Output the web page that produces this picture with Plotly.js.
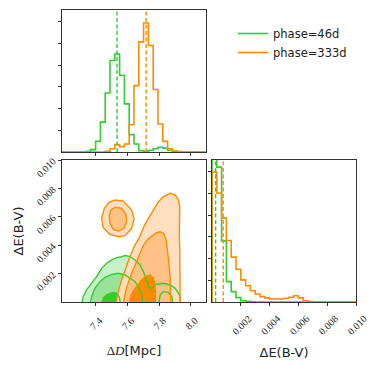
<!DOCTYPE html>
<html>
<head>
<meta charset="utf-8">
<script src="https://cdn.plot.ly/plotly-3.0.1.min.js"></script>
<style>html,body{margin:0;padding:0;background:#fff}#chart{width:374px;height:366px}</style>
</head>
<body>
<div id="chart"></div>
<script>
// Delta D marginal histogram (30 bins across the axis range)
const dLo = 7.19, dHi = 8.095;
const dCountsGreen  = [0,0,0,0,0,3,11,49,138,272,422,452,354,222,80,37,6,3,8,15,22,18,8,2,0,0,0,0,0,0];
const dCountsOrange = [0,0,0,0,0,0,0,0,0,3,15,34,25,37,126,306,508,595,491,288,129,49,15,6,2,0,0,0,0,0];
const dMedians = [7.536, 7.719];

// Delta E(B-V) marginal histogram (30 bins over 0..0.01)
const eLo = 0, eHi = 0.010;
const eCountsGreen  = [1000,622,282,94,48,20,6,3,1,0,0,0,0,0,0,0,0,0,0,0,0,0,0,0,0,0,0,0,0,0];
const eCountsOrange = [599,503,387,284,207,151,102,75,52,37,25,19,14,14,14,17,22,29,19,6,2,1,0,0,0,0,0,0,0,0];
const eMedians = [0.00025, 0.00078];

const labels = ['phase=46d', 'phase=333d'];
const dTicks = [7.4, 7.6, 7.8, 8.0];
const eTicks = [0.002, 0.004, 0.006, 0.008, 0.010];

// 2D credible contours (D, E)
const greenOuterD = [7.313,7.323,7.344,7.376,7.408,7.439,7.471,7.502,7.534,7.565,7.586,7.618,7.649,7.681,7.702,7.719,7.734,7.755,7.786,7.828,7.870,7.902,7.929,7.938];
const greenOuterE = [-0.0002,0.00037,0.00085,0.00132,0.00178,0.00237,0.00273,0.00296,0.00312,0.00319,0.00327,0.0032,0.00296,0.00261,0.00213,0.00162,0.00106,0.00096,0.00125,0.00132,0.0012,0.00096,0.00049,-0.0002];
const greenMidD = [7.365,7.376,7.397,7.428,7.460,7.502,7.544,7.586,7.618,7.649,7.670,7.691,7.698];
const greenMidE = [-0.0002,0.00037,0.00096,0.00143,0.00174,0.00195,0.00202,0.0019,0.00167,0.00143,0.00108,0.00049,-0.0002];
const greenMid2D = [7.796,7.807,7.828,7.859,7.881,7.887];
const greenMid2E = [-0.0002,0.00049,0.00073,0.00068,0.00037,-0.0002];
const greenInD = [7.437,7.449,7.466,7.491,7.517,7.539,7.551,7.558];
const greenInE = [-0.0002,0.00028,0.00047,0.00061,0.00067,0.00056,0.00032,-0.0002];

const orangeOuterD = [7.527,7.546,7.567,7.592,7.618,7.649,7.678,7.693,7.709,7.733,7.765,7.796,7.828,7.870,7.902,7.922,7.930,7.927,7.927,7.930,7.933,7.933,7.933];
const orangeOuterE = [-0.0002,0.00085,0.00162,0.00246,0.00324,0.00401,0.00458,0.005,0.00542,0.00589,0.00648,0.00706,0.00742,0.00765,0.00754,0.00718,0.00669,0.00577,0.00472,0.00366,0.00225,0.0012,-0.0002];
const orangeIslandD = [7.523,7.575,7.628,7.643,7.628,7.586,7.544,7.491,7.449,7.439,7.456,7.485,7.523];
const orangeIslandE = [0.00718,0.00711,0.00648,0.00585,0.00519,0.00467,0.0046,0.00477,0.00523,0.00589,0.0066,0.00702,0.00718];
const orangeMidD = [7.573,7.592,7.618,7.649,7.674,7.702,7.731,7.756,7.782,7.807,7.828,7.845,7.853,7.861,7.870,7.874];
const orangeMidE = [-0.0002,0.00085,0.00176,0.00261,0.00331,0.00401,0.00444,0.00465,0.00486,0.00495,0.00484,0.00437,0.00366,0.00282,0.00169,-0.0002];
const orangeIslandInD = [7.523,7.565,7.592,7.597,7.580,7.548,7.512,7.491,7.487,7.498,7.523];
const orangeIslandInE = [0.00667,0.0066,0.00618,0.0057,0.00519,0.005,0.00512,0.00554,0.00608,0.00648,0.00667];
const orangeInD = [7.611,7.624,7.649,7.681,7.712,7.744,7.765,7.775,7.779];
const orangeInE = [-0.0002,0.00049,0.00096,0.00143,0.00178,0.0019,0.00167,0.0012,-0.0002];

const GREEN = '#32cd32', ORANGE = '#ff8c00';
const greenFills = ['#c9f1c9', '#98e398', '#32cd32'];
const orangeFills = ['#ffdfbf', '#ffc285', '#ff8c00'];
const HMAX = 655;

function stepXY(lo, hi, counts) {
  const w = (hi - lo) / counts.length;
  const x = [lo], y = [0];
  counts.forEach((c, i) => { x.push(lo + i * w); y.push(c); });
  x.push(hi); y.push(0);
  return {x, y};
}

function hist(lo, hi, counts, color, xa, ya, name, legend) {
  const s = stepXY(lo, hi, counts);
  return {x: s.x, y: s.y, xaxis: xa, yaxis: ya, mode: 'lines', name: name,
    showlegend: legend, hoverinfo: 'skip',
    line: {color: color, width: 1.6, shape: 'hv'}};
}

function median(v, color, xa, ya) {
  return {x: [v, v], y: [0, HMAX], xaxis: xa, yaxis: ya, mode: 'lines',
    showlegend: false, hoverinfo: 'skip',
    line: {color: color, width: 1.4, dash: '4px,2.5px'}};
}

function fillPoly(xs, ys, color) {
  return {x: xs, y: ys, xaxis: 'x2', yaxis: 'y2', mode: 'lines', fill: 'toself',
    fillcolor: color, line: {width: 0, color: color}, showlegend: false, hoverinfo: 'skip'};
}

function outline(xs, ys, color) {
  return {x: xs, y: ys, xaxis: 'x2', yaxis: 'y2', mode: 'lines',
    line: {width: 1.4, color: color}, showlegend: false, hoverinfo: 'skip'};
}

const data = [
  // marginal D
  hist(dLo, dHi, dCountsGreen, GREEN, 'x', 'y', labels[0], true),
  hist(dLo, dHi, dCountsOrange, ORANGE, 'x', 'y', labels[1], true),
  median(dMedians[0], GREEN, 'x', 'y'),
  median(dMedians[1], ORANGE, 'x', 'y'),
  // marginal E
  hist(eLo, eHi, eCountsGreen, GREEN, 'x3', 'y3', labels[0], false),
  hist(eLo, eHi, eCountsOrange, ORANGE, 'x3', 'y3', labels[1], false),
  median(eMedians[0], GREEN, 'x3', 'y3'),
  median(eMedians[1], ORANGE, 'x3', 'y3'),
  // 2D fills
  fillPoly(greenOuterD, greenOuterE, greenFills[0]),
  fillPoly(greenMidD, greenMidE, greenFills[1]),
  fillPoly(greenMid2D, greenMid2E, greenFills[1]),
  fillPoly(greenInD, greenInE, greenFills[2]),
  fillPoly(orangeOuterD, orangeOuterE, orangeFills[0]),
  fillPoly(orangeIslandD, orangeIslandE, orangeFills[0]),
  fillPoly(orangeMidD, orangeMidE, orangeFills[1]),
  fillPoly(orangeIslandInD, orangeIslandInE, orangeFills[1]),
  fillPoly(orangeInD, orangeInE, orangeFills[2]),
  // 2D outlines
  outline(greenOuterD, greenOuterE, GREEN),
  outline(greenMidD, greenMidE, GREEN),
  outline(greenMid2D, greenMid2E, GREEN),
  outline(greenInD, greenInE, GREEN),
  outline(orangeOuterD, orangeOuterE, ORANGE),
  outline(orangeIslandD, orangeIslandE, ORANGE),
  outline(orangeMidD, orangeMidE, ORANGE),
  outline(orangeIslandInD, orangeIslandInE, ORANGE),
  outline(orangeInD, orangeInE, ORANGE)
];

const W = 374, H = 366;
const tickFont = {family: 'Liberation Serif, DejaVu Serif, serif', size: 10, color: '#222'};
const titleFont = {family: 'DejaVu Sans', size: 13, color: '#222'};
const base = {showline: true, mirror: true, linecolor: '#333', linewidth: 1,
  showgrid: false, zeroline: false, ticks: 'outside', ticklen: 3, tickwidth: 1,
  tickcolor: '#333', tickfont: tickFont, fixedrange: true};

const histTicks = [100, 200, 300, 400, 500, 600];

const layout = {
  width: W, height: H,
  margin: {l: 0, r: 0, t: 0, b: 0},
  paper_bgcolor: '#fff', plot_bgcolor: '#fff',
  showlegend: true,
  legend: {x: 233 / W, y: 1 - 19 / H, xanchor: 'left', yanchor: 'top',
    bgcolor: 'rgba(0,0,0,0)', font: {family: 'DejaVu Sans', size: 11.5, color: '#222'}},
  xaxis: Object.assign({}, base, {domain: [62 / W, 206 / W], anchor: 'y',
    range: [dLo, dHi], tickvals: dTicks, showticklabels: false}),
  yaxis: Object.assign({}, base, {domain: [1 - 152 / H, 1 - 10 / H], anchor: 'x',
    range: [0, HMAX], tickvals: histTicks, showticklabels: false}),
  xaxis2: Object.assign({}, base, {domain: [62 / W, 206 / W], anchor: 'y2',
    range: [dLo, dHi], tickvals: dTicks, tickformat: '.1f', tickangle: -45,
    ticklabelstandoff: 5, ticklabelshift: 4,
    title: {text: '<span style="font-family:Liberation Serif">Δ<i>D</i></span>[Mpc]',
      font: titleFont, standoff: 15}}),
  yaxis2: Object.assign({}, base, {domain: [1 - 302 / H, 1 - 160 / H], anchor: 'x2',
    range: [0, 0.010], tickvals: eTicks, tickformat: '.3f', tickangle: -45,
    ticklabelstandoff: 3,
    title: {text: 'ΔE(B-V)', font: titleFont, standoff: 7}}),
  xaxis3: Object.assign({}, base, {domain: [212 / W, 356 / W], anchor: 'y3',
    range: [eLo, eHi], tickvals: eTicks, tickformat: '.3f', tickangle: -45,
    ticklabelstandoff: 3, ticklabelshift: 8,
    title: {text: 'ΔE(B-V)', font: titleFont, standoff: 12}}),
  yaxis3: Object.assign({}, base, {domain: [1 - 302 / H, 1 - 160 / H], anchor: 'x3',
    range: [0, HMAX], tickvals: histTicks, showticklabels: false})
};

Plotly.newPlot('chart', data, layout, {staticPlot: true, displayModeBar: false});
</script>
</body>
</html>
